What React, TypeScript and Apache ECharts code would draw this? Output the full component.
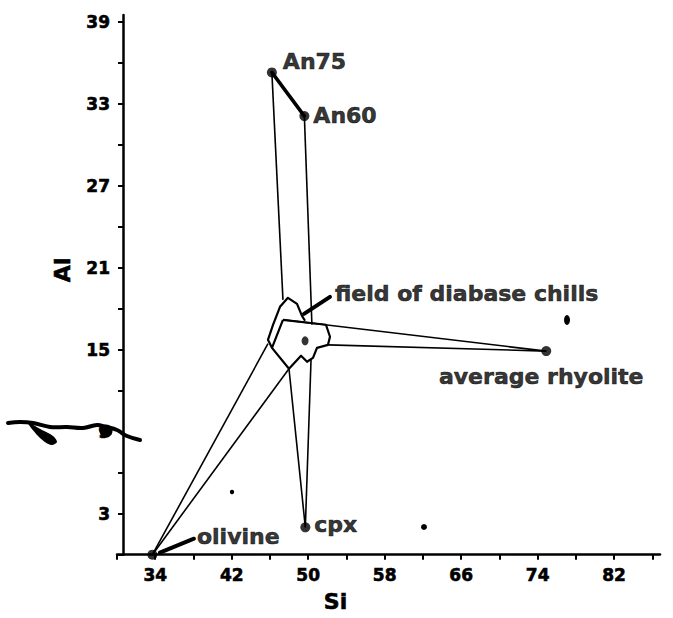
import React, { useEffect, useRef } from 'react';
import * as echarts from 'echarts';

// End-member compositions (cation units)
const endmembers = ['An75', 'An60', 'cpx', 'olivine', 'average rhyolite'];
const endSi = [46.2, 49.6, 49.7, 33.7, 74.9];
const endAl = [35.3, 32.1, 2.0, 0, 14.9];

// Tie lines: end-member index -> point on the edge of the chill field
const tieFrom = [0, 1, 2, 2, 3, 3, 4, 4];
const tieSi = [47.36, 50.39, 50.3, 47.99, 45.79, 47.99, 47.36, 52.07];
const tieAl = [18.65, 16.83, 14.34, 13.61, 15.44, 13.61, 17.19, 15.36];

// Field of diabase chills: outer lobe (open) and inner outline (closed)
const lobeSi = [46.21, 45.79, 46.32, 47.05, 47.88, 48.83, 49.35, 49.67];
const lobeAl = [15.14, 15.73, 16.82, 18.14, 18.8, 18.36, 17.48, 17.12];
const boxSi = [47.36, 51.86, 52.28, 52.07, 50.92, 50.5, 49.88, 49.25, 47.99, 46.21, 47.36];
const boxAl = [17.19, 16.83, 15.95, 15.36, 15.14, 14.41, 14.12, 14.56, 13.61, 15.14, 17.19];

// Label leaders: [start, end] in Si / Al
const fieldLeaderSi = [52.28, 49.56];
const fieldLeaderAl = [18.87, 17.63];
const olivineLeaderSi = [34.49, 38.05];
const olivineLeaderAl = [0.15, 1.17];
const fieldCentreMark = [49.67, 15.65];

// Axis ticks and labels
const xTicks = [30, 34, 38, 42, 46, 50, 54, 58, 62, 66, 70, 74, 78, 82, 86];
const xLabels = [34, 42, 50, 58, 66, 74, 82];
const yTicks = [0, 3, 6, 9, 12, 15, 18, 21, 24, 27, 30, 33, 36, 39];
const yLabels = [3, 9, 15, 21, 27, 33, 39];

const FONT = "'DejaVu Sans', 'Liberation Sans', Arial, sans-serif";
const INK = '#000';

const labelStyle: Record<string, any> = {
  An75: { position: 'right', distance: 6, offset: [0, -11] },
  An60: { position: 'right', distance: 4, offset: [0, -1] },
  cpx: { position: 'right', distance: 4, offset: [0, -3] },
  olivine: { show: false },
  'average rhyolite': { position: 'bottom', distance: 9, offset: [-5, 0] },
};

export default function App() {
  const ref = useRef<HTMLDivElement>(null);

  useEffect(() => {
    if (!ref.current) return;
    const chart = echarts.init(ref.current, null, { renderer: 'svg' });

    // heavy black lettering throughout
    const textBase = {
      fontFamily: FONT,
      fontWeight: 'bold',
      color: INK,
      textBorderColor: INK,
      textBorderWidth: 0.6,
    };

    const ties = tieFrom.map((e, i) => ({
      coords: [
        [endSi[e], endAl[e]],
        [tieSi[i], tieAl[i]],
      ],
    }));

    const option: any = {
      animation: false,
      backgroundColor: '#fff',
      grid: { left: 117, right: 13, top: 15, bottom: 63 },
      xAxis: {
        type: 'value',
        min: 30,
        max: 86.8,
        name: 'Si',
        nameLocation: 'middle',
        nameGap: 36,
        nameTextStyle: { ...textBase, fontSize: 22, padding: [0, 106, 0, 0] },
        axisLine: { lineStyle: { color: INK, width: 2.5 } },
        axisTick: { show: true, length: 5, inside: false, customValues: xTicks, lineStyle: { color: INK, width: 2 } },
        axisLabel: { customValues: xLabels, margin: 12, fontSize: 17, ...textBase },
        splitLine: { show: false },
      },
      yAxis: {
        type: 'value',
        min: 0,
        max: 39.5,
        offset: -6,
        name: 'Al',
        nameLocation: 'middle',
        nameGap: 50,
        nameTextStyle: { ...textBase, fontSize: 22, padding: [0, 0, 0, 30] },
        axisLine: { lineStyle: { color: INK, width: 2.5 } },
        axisTick: { show: true, length: 5, customValues: yTicks, lineStyle: { color: INK, width: 2 } },
        axisLabel: { customValues: yLabels, margin: 13, fontSize: 17, ...textBase },
        splitLine: { show: false },
      },
      series: [
        {
          type: 'lines',
          coordinateSystem: 'cartesian2d',
          silent: true,
          lineStyle: { color: INK, width: 1.6, opacity: 1 },
          data: ties,
          z: 2,
        },
        {
          type: 'lines',
          coordinateSystem: 'cartesian2d',
          polyline: true,
          silent: true,
          lineStyle: { color: INK, width: 2.2, opacity: 1, join: 'round' },
          data: [
            { coords: lobeSi.map((s, i) => [s, lobeAl[i]]) },
            { coords: boxSi.map((s, i) => [s, boxAl[i]]) },
          ],
          z: 3,
        },
        {
          type: 'lines',
          coordinateSystem: 'cartesian2d',
          silent: true,
          lineStyle: { color: INK, width: 3.5, opacity: 1, cap: 'round' },
          data: [{ coords: [[endSi[0], endAl[0]], [endSi[1], endAl[1]]] }],
          z: 4,
        },
        {
          type: 'lines',
          coordinateSystem: 'cartesian2d',
          silent: true,
          lineStyle: { color: INK, width: 4, opacity: 1, cap: 'round' },
          data: [
            { coords: fieldLeaderSi.map((s, i) => [s, fieldLeaderAl[i]]) },
            { coords: olivineLeaderSi.map((s, i) => [s, olivineLeaderAl[i]]) },
          ],
          z: 4,
        },
        {
          type: 'scatter',
          silent: true,
          symbol: 'circle',
          symbolSize: 10,
          itemStyle: { color: INK },
          label: { show: true, formatter: '{b}', fontSize: 22, ...textBase },
          data: endmembers.map((n, i) => ({
            name: n,
            value: [endSi[i], endAl[i]],
            label: labelStyle[n],
          })),
          z: 5,
        },
        {
          type: 'scatter',
          silent: true,
          symbol: 'circle',
          symbolSize: 2,
          itemStyle: { color: INK },
          label: { show: true, formatter: '{b}', position: 'right', fontSize: 22, ...textBase },
          data: [
            {
              name: 'field of diabase chills',
              value: [fieldLeaderSi[0], fieldLeaderAl[0]],
              label: { distance: 4, offset: [0, -3] },
            },
            {
              name: 'olivine',
              value: [olivineLeaderSi[1], olivineLeaderAl[1]],
              label: { distance: 2, offset: [0, -2] },
            },
          ],
          z: 5,
        },
        {
          type: 'scatter',
          silent: true,
          symbol: 'circle',
          symbolSize: [7, 9],
          itemStyle: { color: INK },
          data: [fieldCentreMark],
          z: 5,
        },
      ],
      graphic: [
        {
          type: 'polyline',
          shape: {
            points: [
              [8, 423], [20, 422], [33, 423], [50, 427], [67, 427], [83, 428],
              [97, 425], [106, 427], [117, 430], [127, 436], [140, 440],
            ],
            smooth: 0.4,
          },
          style: { stroke: INK, lineWidth: 4, fill: 'none', lineCap: 'round' },
          z: 20,
        },
        {
          type: 'polygon',
          shape: { points: [[28, 423], [42, 430], [53, 436], [57, 442], [51, 445], [40, 438]], smooth: 0.3 },
          style: { fill: INK },
          z: 20,
        },
        { type: 'circle', shape: { cx: 106, cy: 431, r: 6.5 }, style: { fill: INK }, z: 20 },
        { type: 'ellipse', shape: { cx: 567, cy: 320, rx: 3, ry: 5 }, style: { fill: INK }, z: 20 },
        { type: 'circle', shape: { cx: 424, cy: 527, r: 3 }, style: { fill: INK }, z: 20 },
        { type: 'circle', shape: { cx: 232, cy: 492, r: 2.2 }, style: { fill: INK }, z: 20 },
      ],
    };

    chart.setOption(option);
    return () => chart.dispose();
  }, []);

  return (
    <div
      ref={ref}
      style={{ position: 'fixed', left: 0, top: 0, width: 673, height: 618, background: '#fff' }}
    />
  );
}
